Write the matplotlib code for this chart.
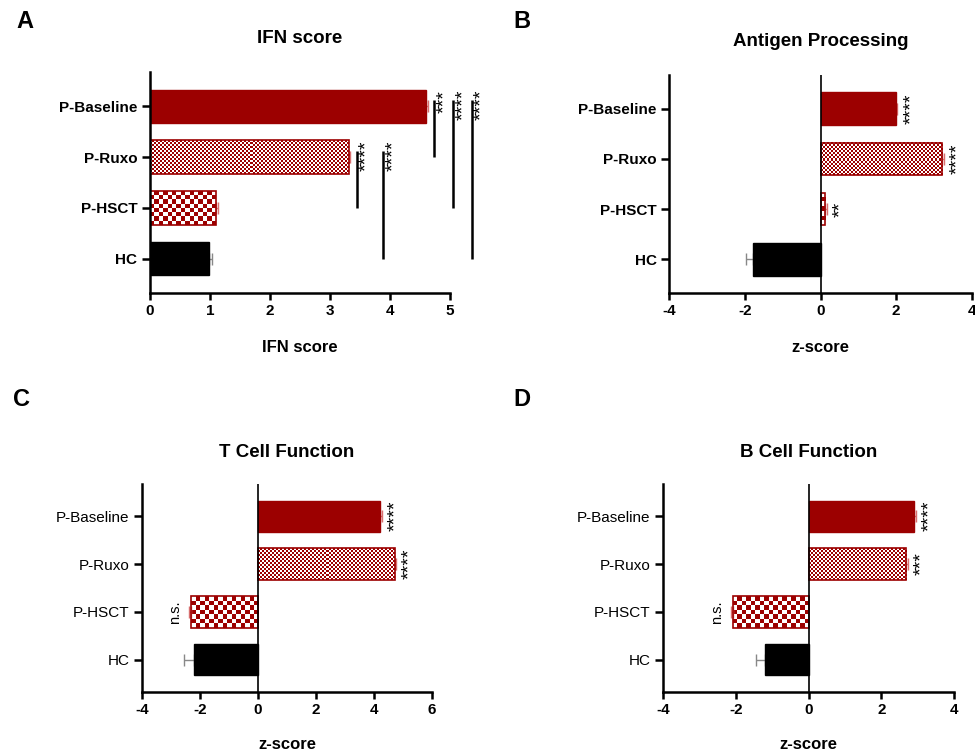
import numpy as np
import matplotlib
matplotlib.use("Agg")
import matplotlib.pyplot as plt
from matplotlib.colors import ListedColormap
from matplotlib.transforms import offset_copy

plt.rcParams['font.family'] = ['Liberation Sans', 'DejaVu Sans']
plt.rcParams['axes.unicode_minus'] = False

groups = ['P-Baseline', 'P-Ruxo', 'P-HSCT', 'HC']

# bar means and one-sided error
ifn_vals = [4.60, 3.31, 1.10, 0.99]
ifn_err = [0.03, 0.03, 0.03, 0.05]
antigen_vals = [2.00, 3.20, 0.12, -1.78]
antigen_err = [0.03, 0.05, 0.05, 0.20]
tcell_vals = [4.22, 4.71, -2.32, -2.20]
tcell_err = [0.05, 0.05, 0.05, 0.35]
bcell_vals = [2.90, 2.69, -2.08, -1.19]
bcell_err = [0.06, 0.05, 0.05, 0.25]

# IFN pairwise tests: (group a, group b, label)
ifn_tests = [(0, 1, '***'), (0, 2, '****'), (0, 3, '****'),
             (1, 2, '****'), (1, 3, '****')]
antigen_sig = ['****', '****', '**', '']
tcell_sig = ['****', '****', 'n.s.', '']
bcell_sig = ['****', '***', 'n.s.', '']

RED = '#9c0000'
fills = ['solid', 'fine', 'coarse', 'black']
W, H = 975, 753


def px_axes(l, t, r, b):
    return fig.add_axes([l / W, 1 - b / H, (r - l) / W, (b - t) / H])


def checker(ax, bar, cell):
    bb = bar.get_window_extent()
    nx = max(1, int(round(bb.width / cell)))
    ny = max(1, int(round(bb.height / cell)))
    img = np.add.outer(np.arange(ny), np.arange(nx)) % 2
    x0 = bar.get_x()
    x1 = x0 + bar.get_width()
    y0 = bar.get_y()
    y1 = y0 + bar.get_height()
    ax.imshow(img, cmap=ListedColormap(['white', RED]), extent=(x0, x1, y1, y0),
              aspect='auto', interpolation='nearest', clip_path=bar, zorder=1.5)


def panel(ax, vals, err, title, xlabel, xlim, xticks, bold_y, zero_line, title_pad, lpad):
    y = np.arange(len(groups))
    ax.set_xlim(*xlim)
    ax.set_ylim(3.67, -0.67)
    bars = ax.barh(y, vals, height=0.65, zorder=2)
    for bar, kind in zip(bars, fills):
        if kind == 'black':
            bar.set_facecolor('black')
            bar.set_edgecolor('black')
        elif kind == 'solid':
            bar.set_facecolor(RED)
            bar.set_edgecolor(RED)
        else:
            bar.set_facecolor('none')
            bar.set_edgecolor(RED)
            bar.set_linewidth(1.2)
            checker(ax, bar, 2.0 if kind == 'fine' else 4.4)
    vals = np.array(vals)
    err = np.array(err)
    lo = np.where(vals < 0, err, 0)
    hi = np.where(vals < 0, 0, err)
    for i in range(len(groups)):
        c = '#888888' if fills[i] == 'black' else '#d87070'
        ax.errorbar(vals[i], y[i], xerr=[[lo[i]], [hi[i]]], fmt='none',
                    ecolor=c, elinewidth=1, capsize=4, capthick=1, zorder=1.8)
    if zero_line:
        ax.axvline(0, color='black', lw=1.2, zorder=3)
    for s in ['top', 'right']:
        ax.spines[s].set_visible(False)
    for s in ['left', 'bottom']:
        ax.spines[s].set_linewidth(1.8)
    ax.set_xticks(xticks)
    ax.set_yticks(y)
    ax.set_yticklabels(groups, fontsize=11, fontweight='bold' if bold_y else 'normal')
    for lab in ax.get_xticklabels():
        lab.set_fontweight('bold')
        lab.set_fontsize(11)
    ax.tick_params(axis='y', length=6, width=1.8, pad=3)
    ax.tick_params(axis='x', length=5, width=1.8, pad=3)
    ax.set_title(title, fontsize=13.5, fontweight='bold', pad=title_pad)
    ax.set_xlabel(xlabel, fontsize=12, fontweight='bold', labelpad=lpad)
    return vals, err


def star_marks(ax, vals, err, labels):
    for i, lab in enumerate(labels):
        if not lab:
            continue
        end = vals[i] + (err[i] if vals[i] >= 0 else -err[i])
        sign = 1 if vals[i] >= 0 else -1
        tr = offset_copy(ax.transData, fig=fig, x=sign * 10, y=0, units='points')
        if lab == 'n.s.':
            ax.text(end, i, lab, transform=tr, rotation=90, ha='center', va='center',
                    fontsize=10.5, clip_on=False)
        else:
            ax.text(end, i, lab, transform=tr, rotation=90, ha='center', va='center',
                    fontsize=14, clip_on=False)


fig = plt.figure(figsize=(W / 100, H / 100), dpi=100)

axA = px_axes(150, 72, 450, 293)
axB = px_axes(669, 75, 972, 293)
axC = px_axes(142, 484, 432, 692)
axD = px_axes(663, 484, 954, 692)

vA, eA = panel(axA, ifn_vals, ifn_err, 'IFN score', 'IFN score', (0, 5), range(6),
               True, False, 21, 16)
vB, eB = panel(axB, antigen_vals, antigen_err, 'Antigen Processing', 'z-score', (-4, 4),
               [-4, -2, 0, 2, 4], True, True, 21, 16)
vC, eC = panel(axC, tcell_vals, tcell_err, 'T Cell Function', 'z-score', (-4, 6),
               [-4, -2, 0, 2, 4, 6], False, True, 19.5, 14)
vD, eD = panel(axD, bcell_vals, bcell_err, 'B Cell Function', 'z-score', (-4, 4),
               [-4, -2, 0, 2, 4], False, True, 19.5, 14)

star_marks(axB, vB, eB, antigen_sig)
star_marks(axC, vC, eC, tcell_sig)
star_marks(axD, vD, eD, bcell_sig)

# IFN comparison lines, stacked to the right of the first bar of each pair
step = {0: 0, 1: 0}
gap = {0: 13.5, 1: 19}
for a, b, lab in ifn_tests:
    dx = 4.5 + step[a] * gap[a]
    step[a] += 1
    tr = offset_copy(axA.transData, fig=fig, x=dx, y=0, units='points')
    end = vA[a] + eA[a]
    top = a - 0.12
    axA.plot([end, end], [top, b], transform=tr, color='black', lw=1.8,
             clip_on=False, solid_capstyle='butt')
    tr2 = offset_copy(axA.transData, fig=fig, x=dx + 7.5, y=0, units='points')
    axA.text(end, top - 0.2, lab, transform=tr2, rotation=90, ha='center', va='top',
             fontsize=14, clip_on=False)

for letter, (x, y) in zip('ABCD', [(25, 22), (522, 22), (22, 400), (522, 400)]):
    fig.text(x / W, 1 - y / H, letter, fontsize=17, fontweight='bold', ha='center', va='center')

fig.savefig('out.png', dpi=100)
